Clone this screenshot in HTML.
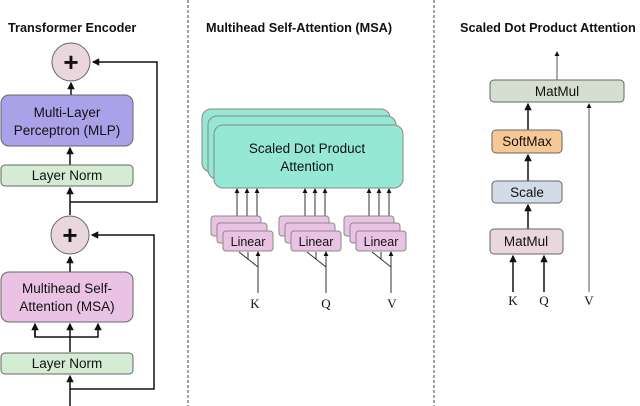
<!DOCTYPE html>
<html><head><style>body{margin:0;background:#fff}svg{display:block}</style></head><body>
<svg width="640" height="406" viewBox="0 0 640 406" xmlns="http://www.w3.org/2000/svg" font-family="Liberation Sans, sans-serif">
<defs><marker id="a" viewBox="0 0 6 6" refX="5" refY="3" markerWidth="5" markerHeight="5" orient="auto"><path d="M0,0L6,3L0,6z" fill="#111"/></marker></defs>
<g font-weight="bold" font-size="12.7" fill="#111">
<text x="8" y="32">Transformer Encoder</text>
<text x="206" y="32">Multihead Self-Attention (MSA)</text>
<text x="460" y="32">Scaled Dot Product Attention</text>
</g>
<g stroke="#444" stroke-dasharray="3,2" stroke-width="1"><line x1="188" y1="0" x2="188" y2="406"/><line x1="434" y1="0" x2="434" y2="406"/></g>
<!-- left panel -->
<g stroke="#111" stroke-width="1.5" fill="none">
<line x1="70" y1="406" x2="70" y2="376" marker-end="url(#a)"/>
<line x1="70" y1="352" x2="70" y2="324" marker-end="url(#a)"/>
<polyline points="35,324 35,337 98,337 98,324" marker-end="url(#a)"/>
<line x1="35" y1="337" x2="35" y2="324" marker-end="url(#a)"/>
<polyline points="70,389 154,389 154,235 92,235" marker-end="url(#a)"/>
<line x1="70" y1="272" x2="70" y2="257" marker-end="url(#a)"/>
<line x1="70" y1="215" x2="70" y2="188" marker-end="url(#a)"/>
<polyline points="70,202 157,202 157,62 93,62" marker-end="url(#a)"/>
<line x1="70" y1="165" x2="70" y2="148" marker-end="url(#a)"/>
<line x1="71" y1="95" x2="71" y2="83" marker-end="url(#a)"/>
</g>
<g stroke="#666" stroke-width="1">
<circle cx="71" cy="62" r="19" fill="#ead7dd"/>
<circle cx="70" cy="235" r="19" fill="#ead7dd"/>
<rect x="1" y="95" width="132" height="51" rx="8" fill="#aba1e9"/>
<rect x="1" y="165" width="132" height="21" rx="4" fill="#d3ecd3"/>
<rect x="1" y="272" width="132" height="50" rx="8" fill="#eac3e4"/>
<rect x="1" y="353" width="132" height="21" rx="4" fill="#d3ecd3"/>
</g>
<g font-size="13.5" fill="#111" text-anchor="middle">
<text x="71" y="71" font-size="26" font-weight="bold">+</text>
<text x="70" y="244" font-size="26" font-weight="bold">+</text>
<text x="67" y="117">Multi-Layer</text>
<text x="67" y="135">Perceptron (MLP)</text>
<text x="67" y="180">Layer Norm</text>
<text x="67" y="293">Multihead Self-</text>
<text x="67" y="311">Attention (MSA)</text>
<text x="67" y="368">Layer Norm</text>
</g>
<!-- middle -->
<g stroke="#888" stroke-width="1" fill="#95e8d3">
<rect x="202" y="109" width="188" height="63" rx="9"/>
<rect x="208" y="116" width="188" height="63" rx="9"/>
<rect x="214" y="125" width="189" height="63" rx="9"/>
</g>
<text x="307" y="153" font-size="13.5" text-anchor="middle" fill="#111">Scaled Dot Product</text>
<text x="307" y="171" font-size="13.5" text-anchor="middle" fill="#111">Attention</text>
<g stroke="#333" stroke-width="1" fill="none">
<line x1="237" y1="218" x2="237" y2="189" marker-end="url(#a)"/><line x1="247" y1="224" x2="247" y2="189" marker-end="url(#a)"/><line x1="257" y1="231" x2="257" y2="189" marker-end="url(#a)"/>
<line x1="305" y1="218" x2="305" y2="189" marker-end="url(#a)"/><line x1="315" y1="224" x2="315" y2="189" marker-end="url(#a)"/><line x1="325" y1="231" x2="325" y2="189" marker-end="url(#a)"/>
<line x1="369" y1="218" x2="369" y2="189" marker-end="url(#a)"/><line x1="379" y1="224" x2="379" y2="189" marker-end="url(#a)"/><line x1="389" y1="231" x2="389" y2="189" marker-end="url(#a)"/>
</g>
<g stroke="#888" stroke-width="1" fill="#eac3e4">
<rect x="211" y="216" width="50" height="20" rx="3"/><rect x="217" y="223" width="50" height="20" rx="3"/><rect x="223" y="231" width="50" height="20" rx="3"/>
<rect x="279" y="216" width="50" height="20" rx="3"/><rect x="285" y="223" width="50" height="20" rx="3"/><rect x="291" y="231" width="50" height="20" rx="3"/>
<rect x="344" y="216" width="50" height="20" rx="3"/><rect x="350" y="223" width="50" height="20" rx="3"/><rect x="356" y="231" width="50" height="20" rx="3"/>
</g>
<g font-size="12.5" fill="#111" text-anchor="middle"><text x="248" y="246">Linear</text><text x="316" y="246">Linear</text><text x="381" y="246">Linear</text></g>
<g stroke="#333" stroke-width="1" fill="none">
<line x1="258" y1="293" x2="258" y2="252" marker-end="url(#a)"/><polyline points="239,252 258,267"/><line x1="248" y1="252" x2="248" y2="259"/>
<line x1="326" y1="293" x2="326" y2="252" marker-end="url(#a)"/><polyline points="307,252 326,267"/><line x1="316" y1="252" x2="316" y2="259"/>
<line x1="391" y1="293" x2="391" y2="252" marker-end="url(#a)"/><polyline points="372,252 391,267"/><line x1="381" y1="252" x2="381" y2="259"/>
</g>
<g font-family="Liberation Serif, serif" font-size="13" fill="#111" text-anchor="middle">
<text x="255" y="308">K</text><text x="326" y="308">Q</text><text x="392" y="308">V</text>
<text x="513" y="305">K</text><text x="544" y="305">Q</text><text x="589" y="305">V</text>
</g>
<!-- right -->
<g stroke="#111" stroke-width="1.5" fill="none">
<line x1="513" y1="292" x2="513" y2="256" marker-end="url(#a)"/>
<line x1="544" y1="292" x2="544" y2="256" marker-end="url(#a)"/>
<line x1="528" y1="229" x2="528" y2="205" marker-end="url(#a)"/>
<line x1="528" y1="181" x2="528" y2="155" marker-end="url(#a)"/>
<line x1="528" y1="130" x2="528" y2="104" marker-end="url(#a)"/>
</g>
<g stroke="#555" stroke-width="1" fill="none">
<line x1="589" y1="292" x2="589" y2="104" marker-end="url(#a)"/>
<line x1="557" y1="80" x2="557" y2="52" marker-end="url(#a)"/>
</g>
<g stroke="#666" stroke-width="1">
<rect x="490" y="80" width="134" height="22" rx="4" fill="#d6dfcf"/>
<rect x="492" y="130" width="70" height="23" rx="4" fill="#f6c894"/>
<rect x="492" y="181" width="70" height="22" rx="4" fill="#d2dbe8"/>
<rect x="490" y="229" width="73" height="25" rx="4" fill="#ead7dd"/>
</g>
<g font-size="13.5" fill="#111" text-anchor="middle">
<text x="557" y="96">MatMul</text><text x="527" y="146">SoftMax</text><text x="527" y="197">Scale</text><text x="526" y="246">MatMul</text>
</g>
</svg>
</body></html>
